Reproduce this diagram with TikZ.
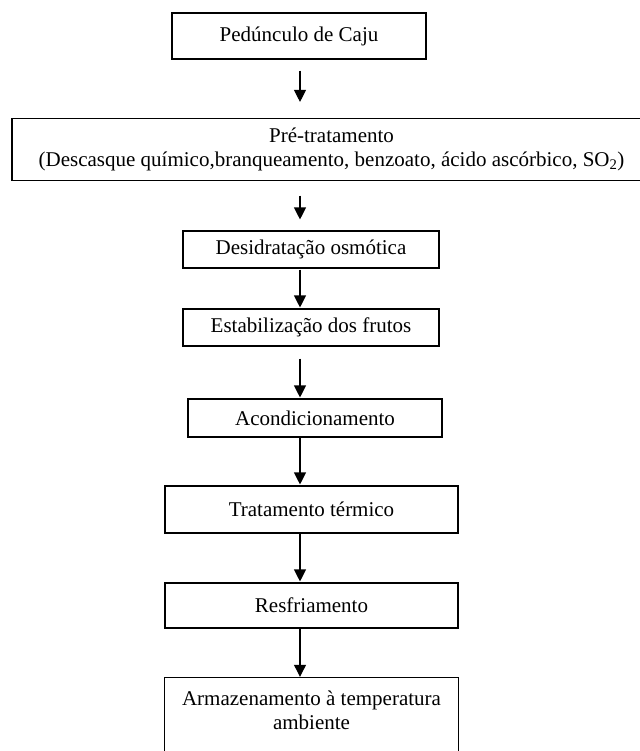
\documentclass[tikz,border=0pt]{standalone}
\usepackage{fontspec}
\setmainfont{Liberation Serif}
\usetikzlibrary{arrows.meta}
\tikzset{
  boxline/.style={draw=black, line width=1.1bp},
  stage/.style={boxline, inner sep=0pt, align=center, font=\fontsize{21bp}{24bp}\selectfont},
  plain/.style={inner sep=0pt, align=center, font=\fontsize{21bp}{24bp}\selectfont},
  arr/.style={draw=black, line width=1.1bp, -{Triangle[width=12bp,length=12bp]}}
}
\begin{document}
\begin{tikzpicture}[x=1bp,y=-1bp]
\useasboundingbox (0,0) rectangle (640,751);
\fill[white] (0,0) rectangle (640,751);
\clip (0,0) rectangle (640,751);
\node[stage, minimum width=254bp, minimum height=46bp] (b1) at (299,36) {Pedúnculo de Caju};
\node[stage, minimum width=639bp, minimum height=62bp] (b2) at (331.5,149.5)
  {Pré-tratamento\\(Descasque químico,branqueamento, benzoato, ácido ascórbico, SO\textsubscript{2})};
\node[stage, minimum width=256bp, minimum height=37bp] (b3) at (311,249.5) {Desidratação osmótica};
\node[stage, minimum width=256bp, minimum height=37bp] (b4) at (311,327.5) {Estabilização dos frutos};
\node[stage, minimum width=254bp, minimum height=38bp] (b5) at (315,418) {Acondicionamento};
\node[stage, minimum width=293bp, minimum height=47bp] (b6) at (311.5,509.5) {Tratamento térmico};
\node[stage, minimum width=293bp, minimum height=45bp] (b7) at (311.5,605.5) {Resfriamento};
\node[plain, minimum width=293bp, minimum height=65bp] (b8) at (311.5,710.5) {Armazenamento à temperatura\\ambiente};
\draw[boxline] ([yshift=-20bp]b8.south west) |- (b8.north east) -- ([yshift=-20bp]b8.south east);
\coordinate (ax) at (300,0);
\draw[arr, shorten <=11bp, shorten >=16bp] (b1.south -| ax) -- (b2.north -| ax);
\draw[arr, shorten <=14.5bp, shorten >=11bp] (b2.south -| ax) -- (b3.north -| ax);
\draw[arr, shorten <=1bp, shorten >=1bp] (b3.south -| ax) -- (b4.north -| ax);
\draw[arr, shorten <=12bp, shorten >=1bp] (b4.south -| ax) -- (b5.north -| ax);
\draw[arr, shorten <=0.5bp, shorten >=1bp] (b5.south -| ax) -- (b6.north -| ax);
\draw[arr, shorten >=1bp] (b6.south -| ax) -- (b7.north -| ax);
\draw[arr, shorten >=1bp] (b7.south -| ax) -- (b8.north -| ax);
\end{tikzpicture}
\end{document}
